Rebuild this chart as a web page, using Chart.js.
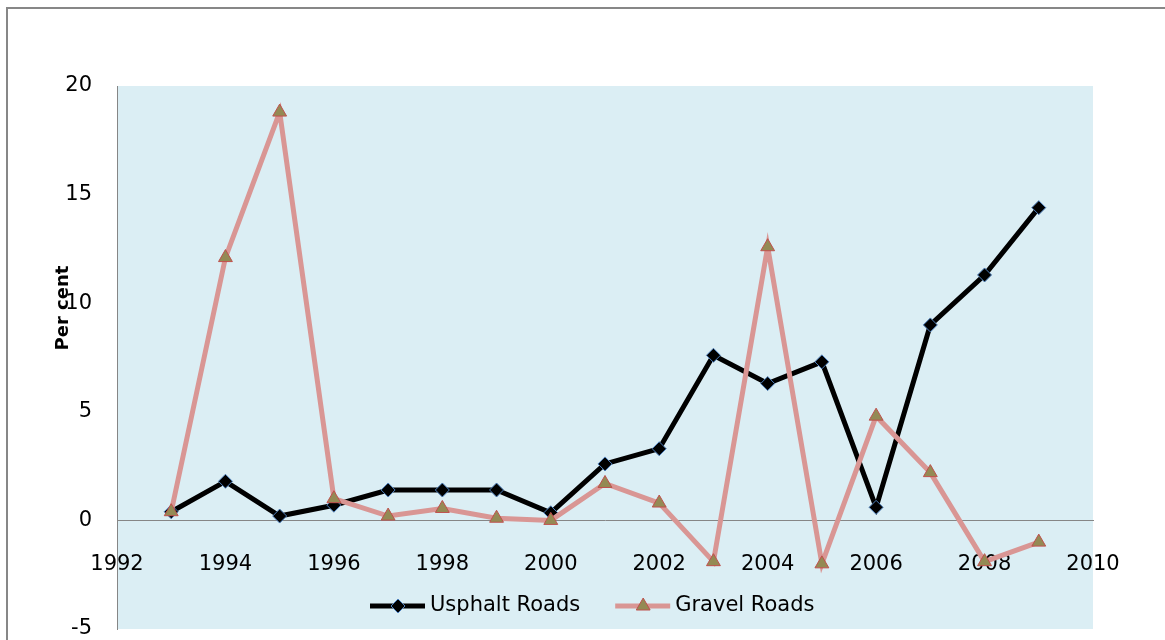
<!DOCTYPE html>
<html>
<head>
<meta charset="utf-8">
<title>Usphalt and Gravel Roads</title>
<script src="https://cdn.jsdelivr.net/npm/chart.js@4.4.0/dist/chart.umd.min.js"></script>
<style>
  body { margin: 0; background: #fff; }
  #wrap { position: relative; width: 1165px; height: 640px; overflow: hidden; }
  #frame { position: absolute; left: 6px; top: 7px; width: 1300px; height: 800px;
           border-left: 2px solid #878787; border-top: 2px solid #878787; }
  #chart { position: absolute; left: 0; top: 0; }
</style>
</head>
<body>
<div id="wrap">
  <div id="frame"></div>
  <canvas id="chart" width="1165" height="640"></canvas>
</div>
<script>
// data
const years = [1993, 1994, 1995, 1996, 1997, 1998, 1999, 2000, 2001, 2002, 2003, 2004, 2005, 2006, 2007, 2008, 2009];
const usphaltRoads = [0.4, 1.8, 0.2, 0.7, 1.4, 1.4, 1.4, 0.35, 2.6, 3.3, 7.6, 6.3, 7.3, 0.6, 9.0, 11.3, 14.4];
const gravelRoads = [0.4, 12.1, 18.8, 1.0, 0.2, 0.55, 0.1, 0.0, 1.7, 0.8, -1.9, 12.6, -2.0, 4.8, 2.2, -1.9, -1.0];
const xRange = [1992, 2010];
const yRange = [-5, 20];
const yTitle = "Per cent";

const FONT = "DejaVu Sans";

function toPoints(vals) {
    return years.map((yr, i) => ({ x: yr, y: vals[i] }));
}

// light blue plot area
const plotBg = {
    id: "plotBg",
    beforeDraw(chart) {
        const a = chart.chartArea, ctx = chart.ctx;
        ctx.save();
        ctx.fillStyle = "#DBEEF4";
        ctx.fillRect(a.left, a.top, a.right - a.left, a.bottom - a.top);
        ctx.restore();
    }
};

// rotated axis title
const axisTitle = {
    id: "axisTitle",
    afterDraw(chart) {
        const a = chart.chartArea, ctx = chart.ctx;
        ctx.save();
        ctx.translate(a.left - 54, a.top + 222);
        ctx.rotate(-Math.PI / 2);
        ctx.font = "bold 18px " + FONT;
        ctx.fillStyle = "#000";
        ctx.textAlign = "center";
        ctx.textBaseline = "middle";
        ctx.fillText(yTitle, 0, 0);
        ctx.restore();
    }
};

function marker(ctx, style, x, y, r, fill, stroke) {
    ctx.beginPath();
    if (style === "rectRot") {
        ctx.moveTo(x, y - r); ctx.lineTo(x + r, y); ctx.lineTo(x, y + r); ctx.lineTo(x - r, y);
    } else {
        ctx.moveTo(x, y - r);
        ctx.lineTo(x + r * Math.sin(2 * Math.PI / 3), y + r / 2);
        ctx.lineTo(x - r * Math.sin(2 * Math.PI / 3), y + r / 2);
    }
    ctx.closePath();
    ctx.fillStyle = fill; ctx.fill();
    ctx.lineWidth = 1; ctx.strokeStyle = stroke; ctx.stroke();
}

// legend inside the plot area, line + marker samples
const insideLegend = {
    id: "insideLegend",
    afterDraw(chart) {
        const a = chart.chartArea, ctx = chart.ctx;
        const y = a.bottom - 23;
        let x = a.left + 253;
        ctx.save();
        ctx.font = "21px " + FONT;
        ctx.textBaseline = "middle";
        chart.data.datasets.forEach(ds => {
            ctx.beginPath();
            ctx.moveTo(x, y); ctx.lineTo(x + 55, y);
            ctx.strokeStyle = ds.borderColor; ctx.lineWidth = ds.borderWidth; ctx.lineCap = "butt";
            ctx.stroke();
            marker(ctx, ds.pointStyle, x + 28, y, ds.pointRadius, ds.pointBackgroundColor, ds.pointBorderColor);
            ctx.fillStyle = "#000";
            ctx.fillText(ds.label, x + 60, y);
            x += 60 + ctx.measureText(ds.label).width + 35;
        });
        ctx.restore();
    }
};

new Chart(document.getElementById("chart"), {
    type: "line",
    data: {
        datasets: [
            {
                label: "Usphalt Roads",
                data: toPoints(usphaltRoads),
                borderColor: "#000000",
                borderWidth: 5,
                pointStyle: "rectRot",
                pointRadius: 7,
                pointBackgroundColor: "#000000",
                pointBorderColor: "#4F81BD",
                pointBorderWidth: 1,
                tension: 0,
                order: 1
            },
            {
                label: "Gravel Roads",
                data: toPoints(gravelRoads),
                borderColor: "#D99694",
                borderWidth: 5,
                pointStyle: "triangle",
                pointRadius: 8,
                pointBackgroundColor: "#948A54",
                pointBorderColor: "#C0504D",
                pointBorderWidth: 1,
                tension: 0,
                order: 0
            }
        ]
    },
    options: {
        responsive: false,
        animation: false,
        events: [],
        layout: { padding: { top: 86, right: 72, bottom: 11, left: 0 } },
        plugins: { legend: { display: false }, tooltip: { enabled: false } },
        scales: {
            x: {
                type: "linear",
                min: xRange[0],
                max: xRange[1],
                position: { y: 0 },
                afterFit(s) { s.height = 0; s.paddingLeft = 0; s.paddingRight = 0; },
                grid: { display: false, drawTicks: false },
                border: { color: "#868686", width: 1 },
                ticks: {
                    stepSize: 2,
                    padding: 32,
                    autoSkip: false,
                    maxRotation: 0,
                    color: "#000",
                    font: { family: FONT, size: 21 },
                    callback: v => String(v)
                }
            },
            y: {
                min: yRange[0],
                max: yRange[1],
                afterFit(s) { s.width = 117; s.paddingTop = 0; s.paddingBottom = 0; },
                grid: { display: false, drawTicks: false },
                border: { color: "#868686", width: 1 },
                ticks: {
                    stepSize: 5,
                    padding: 25,
                    color: "#000",
                    font: { family: FONT, size: 21 }
                }
            }
        }
    },
    plugins: [plotBg, axisTitle, insideLegend]
});
</script>
</body>
</html>
